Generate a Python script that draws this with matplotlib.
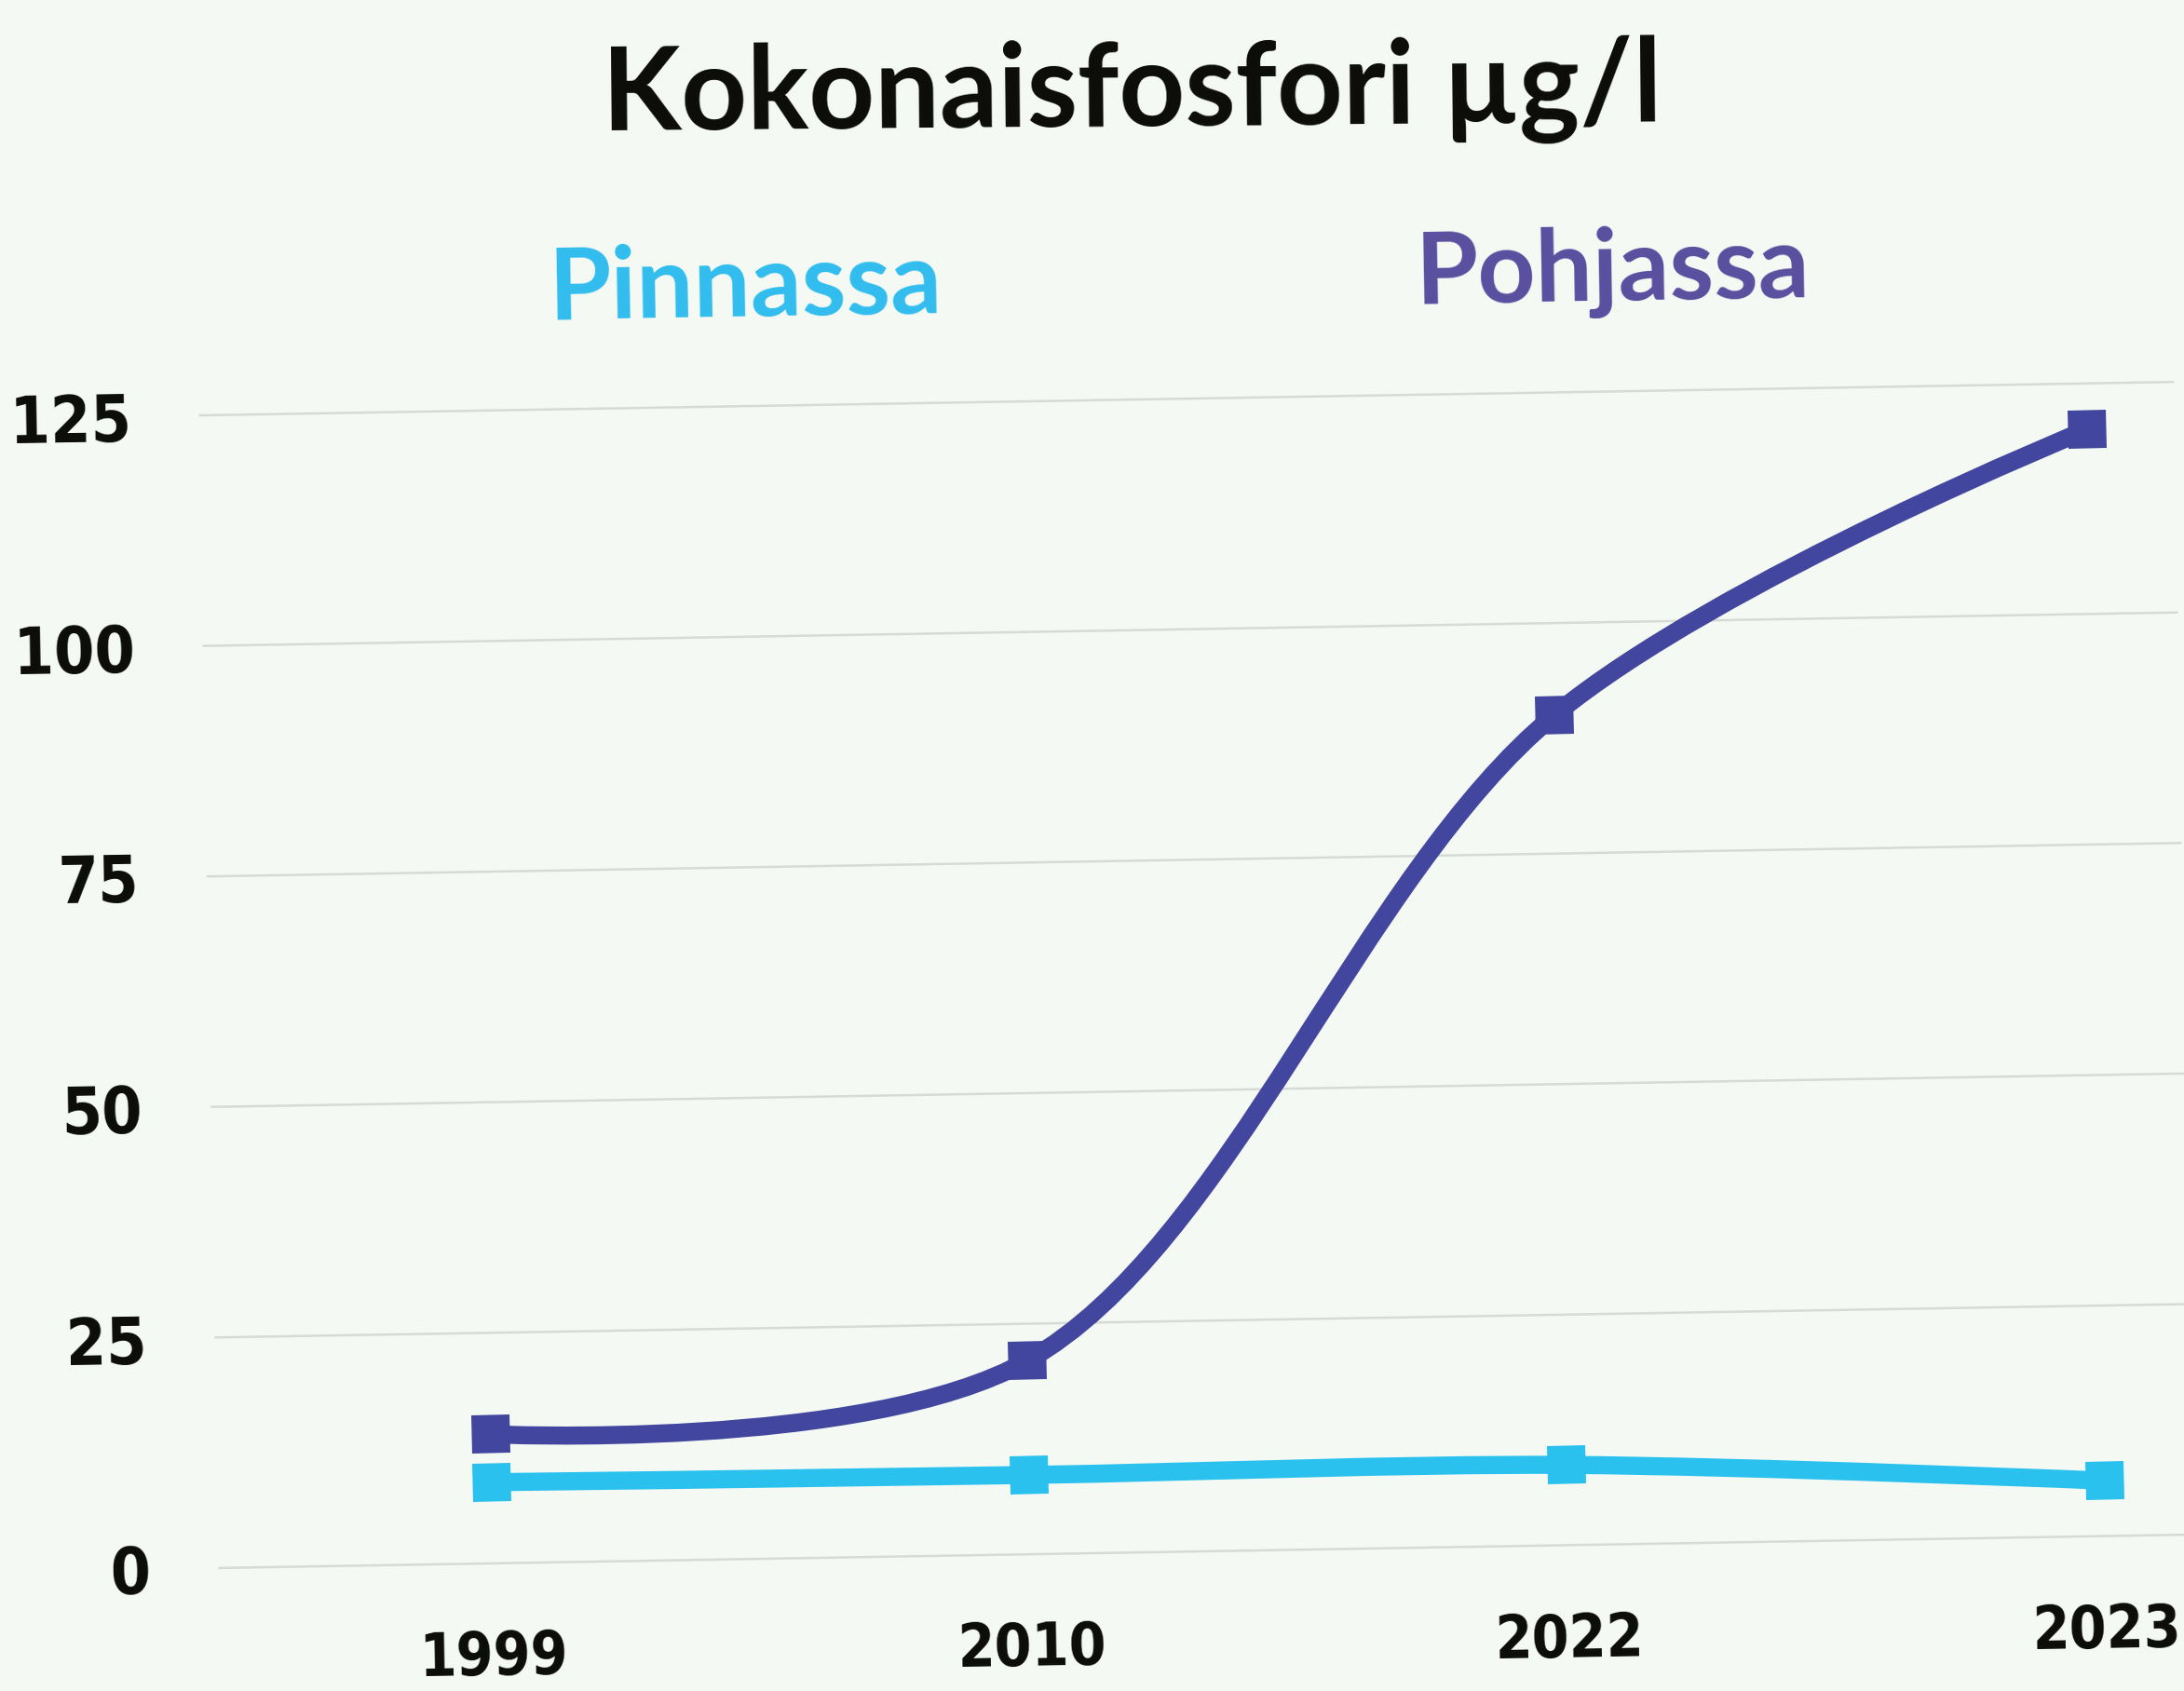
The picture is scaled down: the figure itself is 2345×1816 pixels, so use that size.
import matplotlib
matplotlib.use("Agg")
import matplotlib.pyplot as plt
from matplotlib import font_manager
from matplotlib.font_manager import FontProperties
from matplotlib.path import Path
from matplotlib.patches import PathPatch
from matplotlib.markers import MarkerStyle
from matplotlib.transforms import Affine2D
import numpy as np

# data
years = ["1999", "2010", "2022", "2023"]
pinnassa = [8.8, 8.6, 8.7, 6.0]
pohjassa = [14, 21, 90, 120]
y_ticks = [0, 25, 50, 75, 100, 125]

title = "Kokonaisfosfori µg/l"
series_names = ["Pinnassa", "Pohjassa"]

bg = "#f4f9f3"
c_pin = "#2bc1ef"
c_poh = "#42469e"
c_pin_txt = "#31bdee"
c_poh_txt = "#5a4e9f"
ink = "#0b0b07"
tilt = 0.97  # the whole chart sits slightly rotated

txt_font = "Lato"


def pick_num_font(scale=1.0):
    # heavy, narrow digits like the original
    wanted = [("NotoSans-ExtraCondensedBlack", 60), ("NotoSans-CondensedBlack", 56),
              ("NotoSans-ExtraCondensedBold", 60), ("NotoSans-CondensedBold", 56),
              ("LiberationSansNarrow-Bold.", 56), ("DejaVuSansCondensed-Bold.", 50)]
    files = [f.fname for f in font_manager.fontManager.ttflist]
    for key, size in wanted:
        for fn in files:
            if key in fn:
                return FontProperties(fname=fn, size=size * scale)
    return FontProperties(family="DejaVu Sans", weight="bold", size=44 * scale)


def catmull_rom(ax, xs, ys, alpha=0.5):
    # centripetal catmull-rom, worked out in pixel space, returned in data space
    pts = ax.transData.transform(np.column_stack([xs, ys]))
    n = len(pts)
    verts = [pts[0]]
    for i in range(n - 1):
        p0 = pts[i - 1] if i > 0 else pts[i]
        p1, p2 = pts[i], pts[i + 1]
        p3 = pts[i + 2] if i + 2 < n else pts[i + 1]
        l01 = np.hypot(*(p1 - p0))
        l12 = np.hypot(*(p2 - p1))
        l23 = np.hypot(*(p3 - p2))
        l01a, l12a, l23a = l01 ** alpha, l12 ** alpha, l23 ** alpha
        l01_2a, l12_2a, l23_2a = l01 ** (2 * alpha), l12 ** (2 * alpha), l23 ** (2 * alpha)
        c1 = p1.copy()
        if l01 > 1e-9:
            a = 2 * l01_2a + 3 * l01a * l12a + l12_2a
            c1 = (p1 * a - p0 * l12_2a + p2 * l01_2a) / (3 * l01a * (l01a + l12a))
        c2 = p2.copy()
        if l23 > 1e-9:
            b = 2 * l23_2a + 3 * l23a * l12a + l12_2a
            c2 = (p2 * b + p1 * l23_2a - p3 * l12_2a) / (3 * l23a * (l23a + l12a))
        verts += [c1, c2, p2]
    verts = ax.transData.inverted().transform(np.array(verts))
    codes = [Path.MOVETO] + [Path.CURVE4] * (len(verts) - 1)
    return Path(verts, codes)


W, H = 2345, 1816
fig = plt.figure(figsize=(W / 100, H / 100), dpi=100, facecolor=bg)
left, bottom, top = 224, 132, 1370
ax = fig.add_axes([left / W, bottom / H, 1 - left / W, (top - bottom) / H])
ax.set_facecolor("none")
for s in ax.spines.values():
    s.set_visible(False)
ax.set_xlim(-0.511, 3.163)
ax.set_ylim(0, 125)

rot = Affine2D().rotate_deg_around(left, (bottom + top) / 2, tilt)

# grid
ax.hlines(y_ticks, 0, 1, transform=ax.get_yaxis_transform() + rot,
          colors="#d7dbd7", lw=1.8, clip_on=False, zorder=1)

xs = np.arange(len(years))
sq = MarkerStyle("s", transform=Affine2D().rotate_deg(tilt))
for vals, col in [(pohjassa, c_poh), (pinnassa, c_pin)]:
    ax.add_patch(PathPatch(catmull_rom(ax, xs, vals), fill=False, edgecolor=col, lw=14,
                           capstyle="butt", transform=ax.transData + rot,
                           clip_on=False, zorder=3))
    ax.plot(xs, vals, ls="none", marker=sq, ms=30, mew=0, color=col,
            transform=ax.transData + rot, clip_on=False, zorder=4)

ax.set_xlim(-0.511, 3.163)
ax.set_ylim(0, 125)
ax.set_xticks(xs, years, fontproperties=pick_num_font(0.92), color=ink)
ax.set_yticks(y_ticks, [str(v) for v in y_ticks], fontproperties=pick_num_font(), color=ink)
ax.tick_params(length=0)
ax.tick_params(axis="x", pad=50)
ax.tick_params(axis="y", pad=52)

fig.text(1215 / W, 1 - 140 / H, title, ha="center", va="baseline", fontsize=89,
         fontweight="bold", family=txt_font, color=ink, rotation=tilt * 0.5)
fig.text(800 / W, 1 - 343 / H, series_names[0], ha="center", va="baseline", fontsize=78,
         fontweight="bold", family=txt_font, color=c_pin_txt, rotation=tilt)
fig.text(1731 / W, 1 - 326 / H, series_names[1], ha="center", va="baseline", fontsize=78,
         fontweight="bold", family=txt_font, color=c_poh_txt, rotation=tilt)

# tilt the tick labels with the rest of the chart
fig.canvas.draw()
for lab in ax.xaxis.get_majorticklabels() + ax.yaxis.get_majorticklabels():
    lab.set_transform(lab.get_transform() + rot)
    lab.set_rotation(tilt)

fig.savefig("out.png", dpi=100, facecolor=bg)
